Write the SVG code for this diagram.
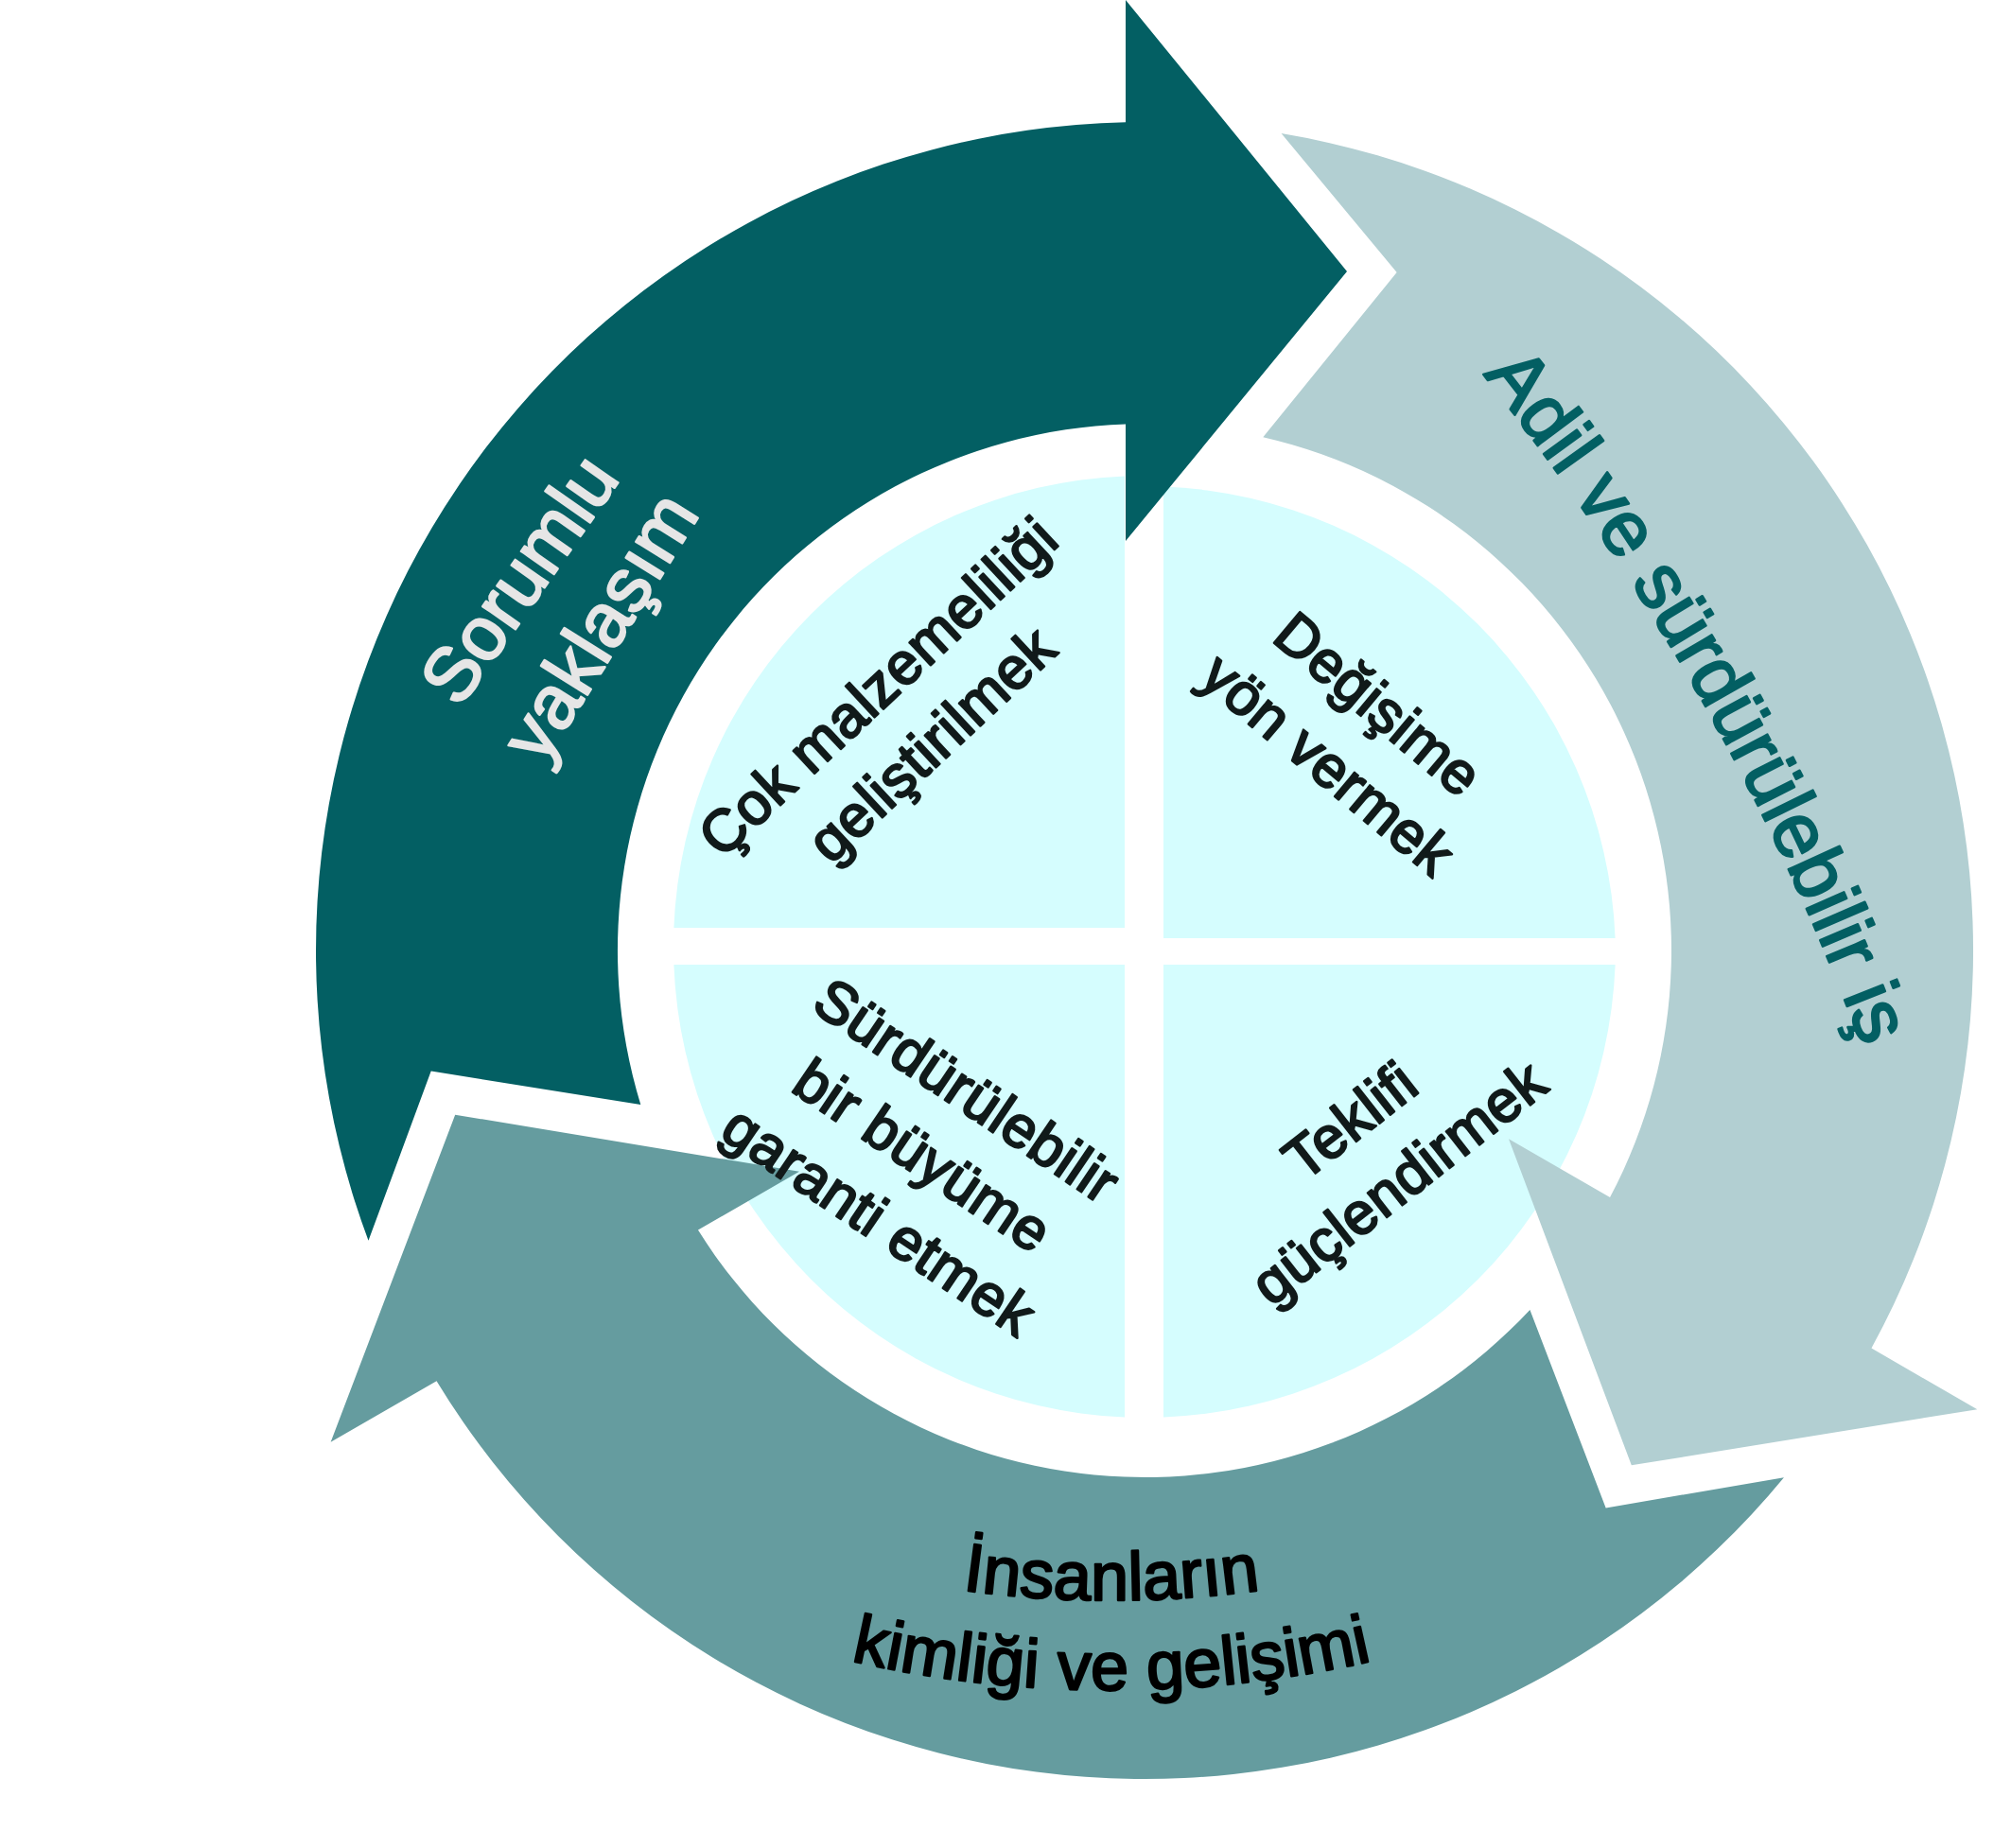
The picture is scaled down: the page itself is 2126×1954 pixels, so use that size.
<svg xmlns="http://www.w3.org/2000/svg" xmlns:xlink="http://www.w3.org/1999/xlink" width="2126" height="1954" viewBox="0 0 2126 1954">
<style>
.quad{fill:#D5FDFE}
.inner{font-family:"Liberation Sans",Arial,sans-serif;font-size:62px;fill:#111A1A;stroke:#111A1A;stroke-width:2.4px;stroke-linejoin:round;text-anchor:middle;letter-spacing:0.5px}
.big{font-family:"Liberation Sans",Arial,sans-serif;font-size:80px;stroke-width:2.4px;stroke-linejoin:round;text-anchor:middle}
</style>
<defs>
<path id="arrowShape" d="M1190,0 L1424,287 L1190,572 L1190,448.4 A557,557 0 0 0 677.3,1167.9 L455.7,1132.6 L389.5,1311.8 A876,876 0 0 1 1190,129.2 Z"/>
<path id="adilPath" d="M1565,392 A2608,2608 0 0 1 1971,1112"/>
<path id="insanPath1" d="M783.4,1623 A1145,1145 0 0 0 1566.6,1623"/>
<path id="insanPath2" d="M750.9,1712.2 A1240,1240 0 0 0 1599.1,1712.2"/>
</defs>
<rect width="2126" height="1954" fill="#FFFFFF"/>

<g id="quad-top-left">
<path class="quad" d="M1189,981 L712.4,981 A498,498 0 0 1 1189,503.4 Z"/>
</g>
<g id="quad-top-right">
<path class="quad" d="M1230,992 L1230,514.4 A498,498 0 0 1 1707.6,992 Z"/>
</g>
<g id="quad-bottom-left">
<path class="quad" d="M1189,1020 L1189,1498.6 A498,498 0 0 1 712.4,1020 Z"/>
</g>
<g id="quad-bottom-right">
<path class="quad" d="M1230,1020 L1707.6,1020 A498,498 0 0 1 1230,1498.6 Z"/>
</g>

<g id="connectors">
<g id="arrow-sorumlu">
<use href="#arrowShape" xlink:href="#arrowShape" fill="#035F63"/>
</g>
<g id="arrow-adil">
<use href="#arrowShape" xlink:href="#arrowShape" fill="#B2CFD2" transform="rotate(120 1210 1005)"/>
</g>
<g id="arrow-insan">
<use href="#arrowShape" xlink:href="#arrowShape" fill="#659C9F" transform="rotate(240 1210 1005)"/>
</g>
</g>

<g id="label-top-left" transform="translate(957 757) rotate(-43)">
<text class="inner" x="0" y="-21">Çok malzemeliliği</text>
<text class="inner" x="0" y="62">geliştirilmek</text>
</g>
<g id="label-top-right" transform="translate(1430 777) rotate(40)">
<text class="inner" x="0" y="-21">Değişime</text>
<text class="inner" x="0" y="62">yön vermek</text>
</g>
<g id="label-bottom-left" transform="translate(975 1223) rotate(34)">
<text class="inner" x="0" y="-63">Sürdürülebilir</text>
<text class="inner" x="0" y="20">bir büyüme</text>
<text class="inner" x="0" y="103">garanti etmek</text>
</g>
<g id="label-bottom-right" transform="translate(1454 1219) rotate(-38)">
<text class="inner" x="0" y="-22">Teklifi</text>
<text class="inner" x="0" y="61">güçlendirmek</text>
</g>

<g id="label-sorumlu" fill="#E6E6E6" stroke="#E6E6E6">
<text class="big" transform="translate(571 628) rotate(-55)">Sorumlu</text>
<text class="big" transform="translate(657 677) rotate(-58)">yaklaşım</text>
</g>
<g id="label-adil" fill="#035F63" stroke="#035F63">
<text class="big" style="font-size:82px"><textPath href="#adilPath" xlink:href="#adilPath" startOffset="50%">Adil ve sürdürülebilir iş</textPath></text>
</g>
<g id="label-insan" fill="#000000" stroke="#000000">
<text class="big" style="font-size:72px"><textPath href="#insanPath1" xlink:href="#insanPath1" startOffset="50%">İnsanların</textPath></text>
<text class="big" style="font-size:72px"><textPath href="#insanPath2" xlink:href="#insanPath2" startOffset="50%">kimliği ve gelişimi</textPath></text>
</g>
</svg>
